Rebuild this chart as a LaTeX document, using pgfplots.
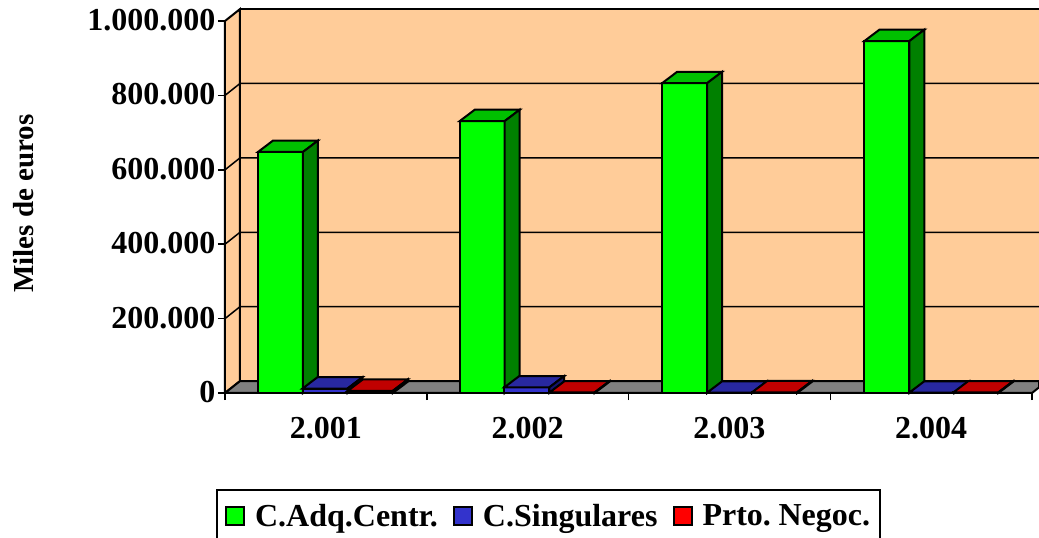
\documentclass[border=0pt]{standalone}
\usepackage{fontspec}
\setmainfont{Liberation Serif}
\usepackage{pgfplots}
\pgfplotsset{compat=1.18}
\definecolor{wall}{RGB}{255,204,153}
\definecolor{floorgrey}{RGB}{128,128,128}
\definecolor{grnF}{RGB}{0,255,0}
\definecolor{grnT}{RGB}{0,192,0}
\definecolor{grnS}{RGB}{0,128,0}
\definecolor{bluF}{RGB}{51,51,204}
\definecolor{bluT}{RGB}{40,40,160}
\definecolor{bluS}{RGB}{20,20,110}
\definecolor{redF}{RGB}{255,0,0}
\definecolor{redT}{RGB}{192,0,0}
\definecolor{redS}{RGB}{128,0,0}

% one 3D bar: left edge, value, colour prefix
\newcommand{\threedbar}[3]{%
  \pgfmathsetmacro\xa{#1+0.223}%
  \pgfmathsetmacro\xb{#1+0.0743}%
  \pgfmathsetmacro\xc{#1+0.2973}%
  \edef\yt{\the\numexpr#2+30500\relax}%
  \addplot[fill=#3F,draw=black,line width=2pt,forget plot] coordinates {(#1,0) (\xa,0) (\xa,#2) (#1,#2) (#1,0) (\xa,0)};
  \addplot[fill=#3T,draw=black,line width=2pt,forget plot] coordinates {(#1,#2) (\xa,#2) (\xc,\yt) (\xb,\yt) (#1,#2) (\xa,#2)};
  \addplot[fill=#3S,draw=black,line width=2pt,forget plot] coordinates {(\xa,0) (\xc,30500) (\xc,\yt) (\xa,#2) (\xa,0) (\xc,30500)};
}
% gridline on side wall and back wall
\newcommand{\wallgrid}[2]{%
  \addplot[draw=black,line width=1.5pt,forget plot] coordinates {(0,#1) (0.0743,#2) (4.0347,#2)};
}

\begin{document}
\begin{tikzpicture}[line join=miter]
\path[use as bounding box] (0,0) rectangle (1039pt,538pt);
\begin{pgfinterruptboundingbox}
\begin{axis}[
  at={(225pt,145pt)},
  anchor=south west,
  scale only axis,
  width=807pt, height=372pt,
  xmin=0, xmax=4,
  ymin=0, ymax=1000000,
  clip=false,
  axis x line*=bottom,
  axis y line*=left,
  axis line style={-,line width=2pt},
  every tick/.style={black,line width=1.5pt},
  major tick length=7pt,
  tick align=outside,
  xtick={0,1,2,3,4},
  x tick label as interval,
  xticklabels={2.001,2.002,2.003,2.004},
  ytick={0,200000,400000,600000,800000,1000000},
  scaled y ticks=false,
  tick label style={font=\fontsize{32}{36}\bfseries\selectfont},
  yticklabel style={yshift=1pt,/pgf/number format/.cd,fixed,1000 sep={.},assume math mode=true},
  yticklabel shift=-1pt,
  xticklabel shift=14pt,
  ylabel={Miles de euros},
  ylabel style={font=\fontsize{29}{32}\bfseries\selectfont,at={(axis description cs:-0.249,0.509)},anchor=center},
  legend columns=3,
  legend style={at={(axis description cs:-0.011,-0.258)},anchor=north west,
    draw=black,line width=2pt,inner xsep=8pt,inner ysep=12pt,
    font=\fontsize{32}{36}\bfseries\selectfont,
    /tikz/every odd column/.append style={column sep=8pt},
    /tikz/every even column/.append style={column sep=13pt}},
  legend cell align=left,
  legend image code/.code={\draw[#1,line width=2pt] (0pt,-9pt) rectangle (18pt,9pt);},
]
% walls and floor
\addplot[fill=wall,draw=none,forget plot] coordinates {(0.0743,32000) (4.0347,32000) (4.0347,1032000) (0.0743,1032000) (0.0743,32000)};
\addplot[fill=wall,draw=black,line width=2pt,forget plot] coordinates {(0,0) (0.0743,32000) (0.0743,1032000) (0,1000000) (0,0)};
\addplot[fill=floorgrey,draw=black,line width=2pt,forget plot] coordinates {(0,0) (4,0) (4.0347,15000) (4.0347,32000) (0.0743,32000) (0,0)};
\addplot[draw=black,line width=2pt,forget plot] coordinates {(0.0743,1032000) (4.0347,1032000)};
\wallgrid{200000}{232000}
\wallgrid{400000}{432000}
\wallgrid{600000}{632000}
\wallgrid{800000}{832000}
% 2.001
\threedbar{0.1636}{648000}{grn}
\threedbar{0.3842}{12000}{blu}
\threedbar{0.6090}{6000}{red}
% 2.002
\threedbar{1.1636}{731000}{grn}
\threedbar{1.3842}{15000}{blu}
\threedbar{1.6090}{1500}{red}
% 2.003
\threedbar{2.1670}{833000}{grn}
\threedbar{2.3900}{1000}{blu}
\threedbar{2.6130}{2000}{red}
% 2.004
\threedbar{3.1690}{946000}{grn}
\threedbar{3.3920}{1000}{blu}
\threedbar{3.6100}{1500}{red}
\addlegendimage{fill=grnF,draw=black}
\addlegendentry{C.Adq.Centr.}
\addlegendimage{fill=bluF,draw=black}
\addlegendentry{C.Singulares}
\addlegendimage{fill=redF,draw=black}
\addlegendentry{Prto.\hspace{-3pt} Negoc.}
\end{axis}
\end{pgfinterruptboundingbox}
\end{tikzpicture}
\end{document}
